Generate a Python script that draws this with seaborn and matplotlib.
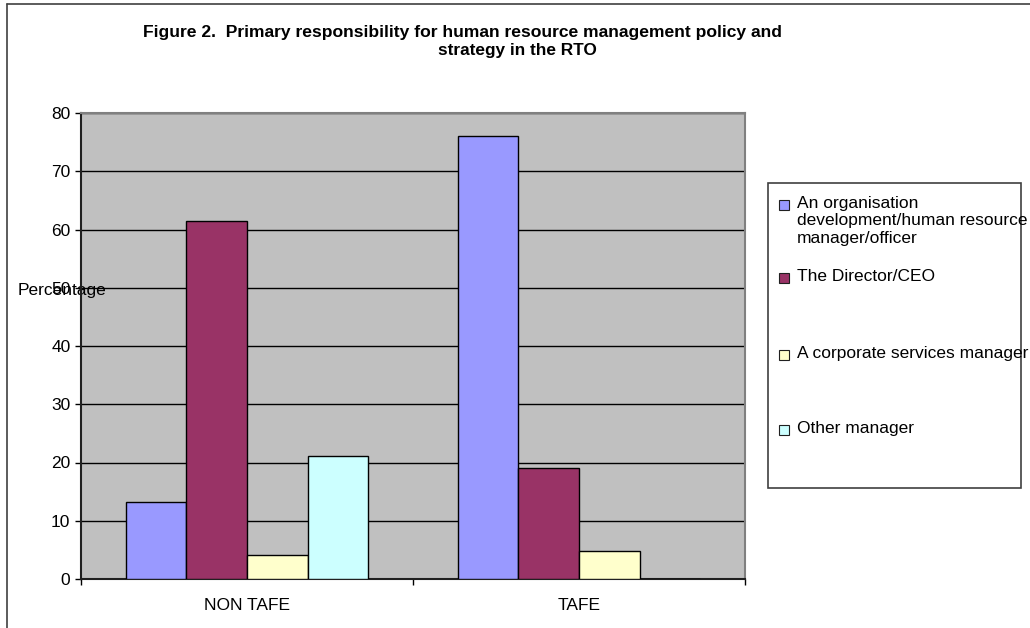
import pandas as pd
import matplotlib
matplotlib.use("Agg")
import matplotlib.pyplot as plt
from matplotlib.patches import Rectangle
from matplotlib.lines import Line2D
import seaborn as sns

# data
sectors = ["NON TAFE", "TAFE"]
roles = ["An organisation\ndevelopment/human resource\nmanager/officer",
         "The Director/CEO",
         "A corporate services manager",
         "Other manager"]
non_tafe = [13.2, 61.5, 4.1, 21.2]
tafe = [76.1, 19.1, 4.8, 0.0]
bar_colors = ["#9999FF", "#993366", "#FFFFCC", "#CCFFFF"]
yticks = [0, 10, 20, 30, 40, 50, 60, 70, 80]

W, H = 1030, 628


def px(x, y):
    # pixel position (from top-left) -> figure fraction
    return x / W, 1 - y / H


df = pd.DataFrame({
    "sector": sectors * len(roles),
    "role": [r for r in roles for _ in sectors],
    "pct": [v for pair in zip(non_tafe, tafe) for v in pair],
})

sns.set_style("white")
plt.rcParams["font.family"] = ["Liberation Sans", "DejaVu Sans"]
plt.rcParams["text.color"] = "black"
plt.rcParams["axes.labelcolor"] = "black"
plt.rcParams["xtick.color"] = "black"
plt.rcParams["ytick.color"] = "black"

fig = plt.figure(figsize=(W / 100, H / 100), dpi=100)
ax = fig.add_axes([81 / W, 49 / H, 664 / W, 466 / H])

sns.barplot(data=df, x="sector", y="pct", hue="role", hue_order=roles,
            order=sectors, palette=bar_colors, width=0.73, gap=0,
            edgecolor="black", linewidth=1, saturation=1, legend=False,
            errorbar=None, ax=ax, zorder=3)

ax.set_facecolor("#C0C0C0")
ax.set_ylim(0, 80)
ax.set_xlim(-0.5, 1.5)
ax.set_yticks(yticks)
ax.yaxis.grid(True, color="black", linewidth=1)
ax.set_axisbelow(True)
ax.tick_params(axis="y", labelsize=12.5, length=4, width=1, pad=3.6,
               direction="out", left=True, color="black")
ax.tick_params(axis="x", which="major", labelsize=12.5, length=0, pad=13.5)
ax.set_xticks([-0.5, 0.5, 1.5], minor=True)
ax.tick_params(axis="x", which="minor", length=4, width=1, direction="out",
               bottom=True, color="black")

for side in ["left", "bottom"]:
    ax.spines[side].set_color("#202020")
    ax.spines[side].set_linewidth(1.5)
for side in ["top", "right"]:
    ax.spines[side].set_color("#808080")
    ax.spines[side].set_linewidth(1.5)

ax.set_xlabel("")
ax.set_ylabel("Percentage", rotation=0, fontsize=12.5, ha="left", va="center")
ax.yaxis.set_label_coords(-0.095, 0.62)

# title, two lines as in the original
fig.text(*px(143, 32), "Figure 2.  Primary responsibility for human resource management policy and",
         fontsize=12.6, fontweight="bold", ha="left", va="center")
fig.text(*px(517, 50), "strategy in the RTO",
         fontsize=12.4, fontweight="bold", ha="center", va="center")

# legend box drawn like the spreadsheet one
x0, y0 = px(768, 488)
x1, y1 = px(1021, 183)
fig.patches.append(Rectangle((x0, y0), x1 - x0, y1 - y0, transform=fig.transFigure,
                             facecolor="white", edgecolor="#404040", linewidth=1.2))
entry_y = [205, 278, 355, 430]
for role, color, ey in zip(roles, bar_colors, entry_y):
    mx, my = px(779, ey + 5)
    fig.patches.append(Rectangle((mx, my), 10 / W, 10 / H, transform=fig.transFigure,
                                 facecolor=color, edgecolor="#202020", linewidth=0.8))
    fig.text(*px(797, ey - 9), role, fontsize=12.5, ha="left", va="top",
             linespacing=1.2)

# outer chart frame
fig.add_artist(Line2D([6.5 / W, 6.5 / W], [0, 1 - 4 / H], transform=fig.transFigure,
                      color="#404040", linewidth=1.2))
fig.add_artist(Line2D([6.5 / W, 1], [1 - 4 / H, 1 - 4 / H], transform=fig.transFigure,
                      color="#404040", linewidth=1.2))

fig.savefig("out.png", dpi=100, facecolor="white")
